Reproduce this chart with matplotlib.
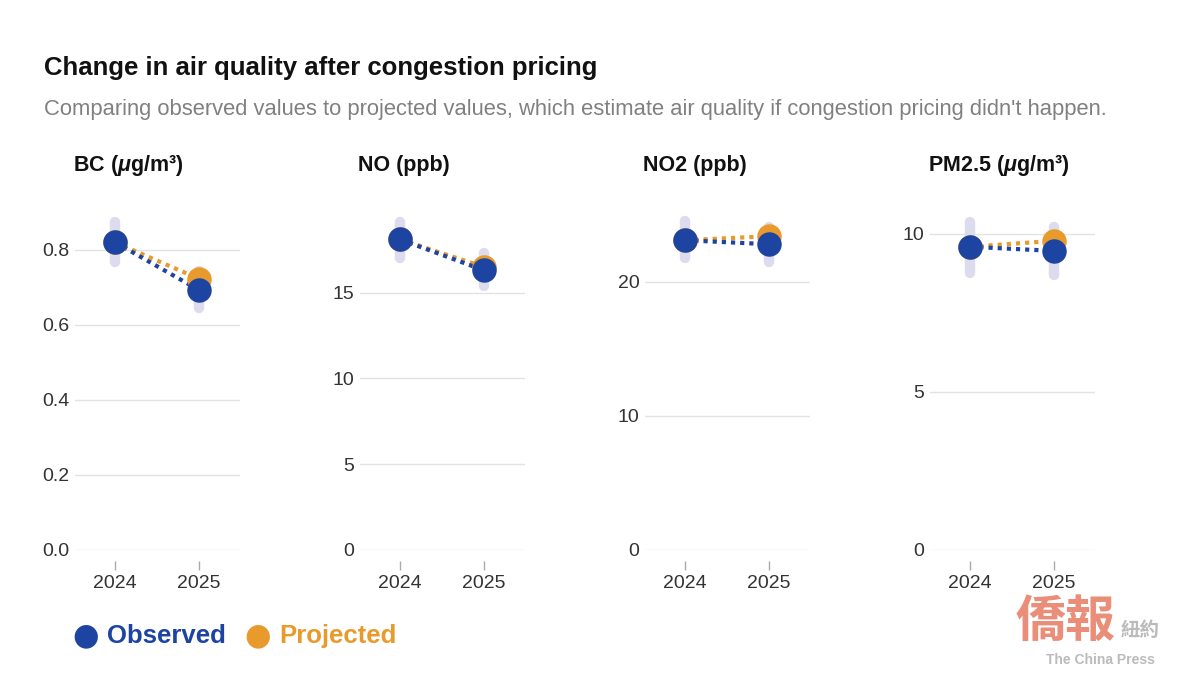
import numpy as np
import matplotlib
matplotlib.use("Agg")
import matplotlib.pyplot as plt

plt.rcParams['font.family'] = ['Liberation Sans', 'DejaVu Sans']
plt.rcParams['mathtext.fontset'] = 'custom'
plt.rcParams['mathtext.it'] = 'Liberation Sans:bold:italic'
plt.rcParams['mathtext.rm'] = 'Liberation Sans:bold'

# ---- data ----
years = [2024, 2025]
pollutants = ["BC ($\\mu$g/m³)", "NO (ppb)", "NO2 (ppb)", "PM2.5 ($\\mu$g/m³)"]
observed = [
    [0.82, 0.693],
    [18.1, 16.3],
    [23.1, 22.8],
    [9.59, 9.46],
]
projected = [
    [0.82, 0.723],
    [18.1, 16.5],
    [23.1, 23.4],
    [9.59, 9.78],
]
range_low = [
    [0.768, 0.645],
    [17.0, 15.4],
    [21.8, 21.5],
    [8.77, 8.70],
]
range_high = [
    [0.875, 0.745],
    [19.1, 17.3],
    [24.5, 24.1],
    [10.38, 10.22],
]
yticks = [
    [0, 0.2, 0.4, 0.6, 0.8],
    [0, 5, 10, 15],
    [0, 10, 20],
    [0, 5, 10],
]
ytick_labels = [
    ["0.0", "0.2", "0.4", "0.6", "0.8"],
    ["0", "5", "10", "15"],
    ["0", "10", "20"],
    ["0", "5", "10"],
]
ymax = [0.933, 20.4, 26.1, 11.07]

BLUE = "#1d44a0"
ORANGE = "#e89a2c"
BAND = "#dcdcee"
GRID = "#e3e3e3"

W, H = 1200, 689
fig = plt.figure(figsize=(W / 100, H / 100), dpi=100)

fig.text(44 / W, 1 - 68 / H, "Change in air quality after congestion pricing",
         fontsize=18.5, fontweight="bold", color="#111111", va="center")
fig.text(44 / W, 1 - 110 / H,
         "Comparing observed values to projected values, which estimate air "
         "quality if congestion pricing didn't happen.",
         fontsize=15.8, color="#808080", va="center")

lefts = [75, 360, 645, 930]
for i, left in enumerate(lefts):
    ax = fig.add_axes([left / W, 1 - 550 / H, 165 / W, 350 / H])
    ax.set_xlim(2023.52, 2025.49)
    ax.set_ylim(0, ymax[i])
    for s in ["top", "right", "left"]:
        ax.spines[s].set_visible(False)
    ax.spines["bottom"].set_position(("outward", 8))
    ax.spines["bottom"].set_visible(False)

    ax.set_yticks(yticks[i])
    ax.set_yticklabels(ytick_labels[i])
    ax.tick_params(axis="y", length=0, pad=4, labelsize=14, labelcolor="#333333")
    ax.set_xticks(years)
    ax.set_xticklabels([str(y) for y in years])
    ax.tick_params(axis="x", length=6.5, width=1, color="#aaaaaa", pad=3.5,
                   labelsize=14, labelcolor="#333333")
    ax.grid(axis="y", color=GRID, linewidth=1)
    ax.set_axisbelow(True)

    # uncertainty bands
    for x, lo, hi in zip(years, range_low[i], range_high[i]):
        ax.plot([x, x], [lo, hi], color=BAND, linewidth=7.5,
                solid_capstyle="round", zorder=2)

    ax.plot(years, projected[i], color=ORANGE, linewidth=3,
            linestyle=(0, (1, 1.2)), dash_capstyle="butt", zorder=3)
    ax.plot(years, observed[i], color=BLUE, linewidth=3,
            linestyle=(0, (1, 1.2)), dash_capstyle="butt", zorder=4)
    ax.scatter(years, projected[i], s=310, color=ORANGE, zorder=5,
               linewidths=0)
    ax.scatter(years, observed[i], s=310, color=BLUE, zorder=6,
               linewidths=0)

    fig.text((left - 2) / W, 1 - 166 / H, pollutants[i], fontsize=15.5,
             fontweight="bold", color="#111111", va="center")

# legend
fig.text(86 / W, 1 - 636 / H, "●", fontsize=22, color=BLUE,
         ha="center", va="center", family="DejaVu Sans")
fig.text(107 / W, 1 - 636 / H, "Observed", fontsize=18.5, fontweight="bold",
         color=BLUE, va="center")
fig.text(258 / W, 1 - 636 / H, "●", fontsize=22, color=ORANGE,
         ha="center", va="center", family="DejaVu Sans")
fig.text(279 / W, 1 - 636 / H, "Projected", fontsize=18.5, fontweight="bold",
         color=ORANGE, va="center")

# watermark
fig.text(1065 / W, 1 - 622 / H, "僑報", fontsize=36, color="#e8826a",
         ha="center", va="center", family="Noto Sans CJK TC",
         fontweight="bold", alpha=0.9)
fig.text(1140 / W, 1 - 630 / H, "紐約", fontsize=14, color="#bbbbbb",
         ha="center", va="center", family="Noto Sans CJK TC",
         fontweight="bold")
fig.text(1100 / W, 1 - 660 / H, "The China Press", fontsize=10,
         color="#bbbbbb", ha="center", va="center", fontweight="bold")

fig.savefig("out.png", dpi=100, facecolor="white")
